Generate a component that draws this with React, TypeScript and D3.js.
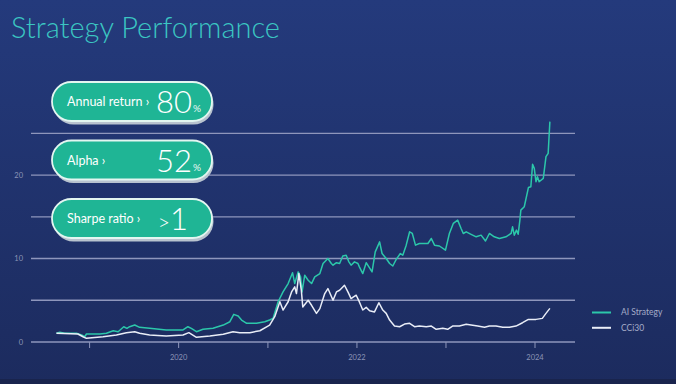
import React, { useEffect, useRef } from "react";
import * as d3 from "d3";

// values (growth of 1 unit)
const aiStrategy: [string, number][] = [
  ["2018-08-18", 1.04], ["2018-09-01", 1.16], ["2018-09-21", 1.04], ["2018-11-08", 1.04],
  ["2018-11-29", 0.84], ["2018-12-12", 0.63], ["2018-12-19", 0.96], ["2019-02-12", 0.96],
  ["2019-03-11", 1.04], ["2019-04-08", 1.35], ["2019-04-28", 1.23], ["2019-05-21", 1.83],
  ["2019-06-03", 1.64], ["2019-06-14", 1.83], ["2019-07-05", 2.03], ["2019-07-25", 1.76],
  ["2019-09-04", 1.64], ["2019-11-11", 1.44], ["2020-01-19", 1.44], ["2020-02-08", 1.83],
  ["2020-02-22", 1.64], ["2020-03-14", 1.23], ["2020-04-10", 1.52], ["2020-05-21", 1.64],
  ["2020-07-02", 2.03], ["2020-07-29", 2.43], ["2020-08-14", 3.31], ["2020-09-01", 3.11],
  ["2020-09-15", 2.63], ["2020-10-06", 2.24], ["2020-11-15", 2.24], ["2020-12-19", 2.43],
  ["2021-01-08", 2.63], ["2021-01-22", 2.83], ["2021-02-12", 4.82], ["2021-03-04", 6.0],
  ["2021-03-25", 7.0], ["2021-04-12", 8.3], ["2021-04-21", 7.0], ["2021-05-05", 8.4],
  ["2021-05-15", 7.8], ["2021-05-21", 6.0], ["2021-06-01", 8.0], ["2021-06-15", 7.4],
  ["2021-06-29", 7.0], ["2021-07-12", 7.8], ["2021-08-02", 8.2], ["2021-08-15", 9.4],
  ["2021-09-04", 10.0], ["2021-09-18", 9.4], ["2021-09-25", 9.2], ["2021-10-09", 9.5],
  ["2021-10-22", 9.4], ["2021-11-04", 10.3], ["2021-11-18", 10.4], ["2021-11-29", 9.6],
  ["2021-12-08", 9.2], ["2021-12-22", 9.6], ["2022-01-05", 9.4], ["2022-01-11", 9.0],
  ["2022-01-25", 8.2], ["2022-02-08", 9.5], ["2022-02-19", 9.0], ["2022-03-04", 8.4],
  ["2022-03-17", 10.8], ["2022-04-04", 12.0], ["2022-04-14", 10.6], ["2022-05-01", 10.0],
  ["2022-05-15", 9.4], ["2022-05-28", 9.1], ["2022-06-11", 9.9], ["2022-06-28", 10.6],
  ["2022-07-08", 10.4], ["2022-07-22", 11.6], ["2022-08-05", 13.2], ["2022-08-16", 13.0],
  ["2022-08-29", 11.6], ["2022-09-14", 11.8], ["2022-10-05", 11.8], ["2022-10-19", 11.8],
  ["2022-11-02", 12.4], ["2022-11-15", 11.6], ["2022-12-05", 11.5], ["2022-12-30", 11.0],
  ["2023-01-15", 13.0], ["2023-01-31", 14.2], ["2023-02-18", 14.6], ["2023-03-04", 13.6],
  ["2023-03-13", 13.0], ["2023-03-25", 13.2], ["2023-04-14", 12.9], ["2023-05-05", 12.6],
  ["2023-05-25", 12.8], ["2023-06-12", 12.1], ["2023-06-28", 13.0], ["2023-07-18", 12.6],
  ["2023-08-08", 12.4], ["2023-09-04", 12.6], ["2023-09-25", 13.0], ["2023-10-01", 13.8],
  ["2023-10-08", 12.8], ["2023-10-17", 13.4], ["2023-10-24", 12.9], ["2023-10-31", 14.6],
  ["2023-11-04", 15.8], ["2023-11-18", 16.2], ["2023-12-05", 18.5], ["2023-12-15", 18.6],
  ["2023-12-22", 21.3], ["2023-12-29", 20.8], ["2024-01-05", 19.2], ["2024-01-11", 19.8],
  ["2024-01-18", 19.2], ["2024-02-04", 19.6], ["2024-02-15", 22.2], ["2024-02-24", 22.6],
  ["2024-03-02", 26.4],
];

const cci30: [string, number][] = [
  ["2018-08-18", 1.04], ["2018-11-14", 0.96], ["2018-12-05", 0.63], ["2018-12-19", 0.44],
  ["2019-02-25", 0.63], ["2019-04-21", 0.84], ["2019-06-01", 1.12], ["2019-07-05", 1.23],
  ["2019-07-25", 1.04], ["2019-09-04", 0.84], ["2019-11-11", 0.72], ["2020-01-19", 0.84],
  ["2020-02-12", 1.12], ["2020-03-14", 0.56], ["2020-05-08", 0.72], ["2020-07-02", 0.92],
  ["2020-08-11", 1.23], ["2020-09-08", 1.12], ["2020-10-19", 1.12], ["2020-11-29", 1.35],
  ["2021-01-01", 1.91], ["2021-01-08", 2.03], ["2021-01-29", 3.03], ["2021-02-19", 4.82],
  ["2021-03-04", 3.83], ["2021-03-25", 4.82], ["2021-04-08", 6.0], ["2021-04-21", 6.6],
  ["2021-04-28", 5.8], ["2021-05-08", 8.2], ["2021-05-18", 6.2], ["2021-05-24", 4.2],
  ["2021-06-15", 5.0], ["2021-06-29", 4.4], ["2021-07-19", 3.43], ["2021-08-02", 4.0],
  ["2021-08-22", 5.8], ["2021-09-04", 6.4], ["2021-09-25", 5.0], ["2021-10-09", 6.0],
  ["2021-10-22", 6.2], ["2021-11-11", 6.8], ["2021-11-25", 6.0], ["2021-12-08", 5.2],
  ["2021-12-18", 5.4], ["2021-12-29", 5.6], ["2022-01-11", 4.8], ["2022-01-25", 3.83],
  ["2022-02-08", 4.15], ["2022-02-22", 3.75], ["2022-03-14", 3.6], ["2022-04-01", 4.7],
  ["2022-04-17", 3.83], ["2022-05-01", 3.43], ["2022-05-15", 2.63], ["2022-06-04", 1.91],
  ["2022-06-25", 1.83], ["2022-07-15", 2.15], ["2022-08-05", 2.24], ["2022-08-25", 1.83],
  ["2022-09-14", 1.91], ["2022-10-12", 1.83], ["2022-11-02", 1.91], ["2022-11-22", 1.52],
  ["2022-12-19", 1.64], ["2023-01-08", 1.52], ["2023-01-28", 1.91], ["2023-02-25", 1.91],
  ["2023-03-25", 2.12], ["2023-04-14", 2.03], ["2023-05-11", 1.91], ["2023-06-08", 1.76],
  ["2023-06-28", 1.91], ["2023-07-25", 1.91], ["2023-08-22", 1.76], ["2023-09-18", 1.76],
  ["2023-10-15", 1.91], ["2023-11-11", 2.31], ["2023-12-05", 2.71], ["2024-01-05", 2.71],
  ["2024-01-31", 2.83], ["2024-02-15", 3.43], ["2024-03-02", 4.03],
];

const seriesNames = ["AI Strategy", "CCi30"];
const gridValues = [0, 5, 10, 15, 20, 25];
const labelValues = [0, 10, 20];
const tickYears = [2019, 2020, 2021, 2022, 2023, 2024];
const labelYears = [2020, 2022, 2024];

const metricLabels = ["Annual return ›", "Alpha ›", "Sharpe ratio ›"];
const metricPrefix = ["", "", ">"];
const metricValues = ["80", "52", "1"];
const metricSuffix = ["%", "%", ""];

const width = 676;
const height = 384;
const teal = "#2cc7aa";
const gridColor = "#8e96bc";
const font = "Lato, 'Open Sans', sans-serif";

export default function App() {
  const ref = useRef<SVGSVGElement>(null);

  useEffect(() => {
    document.body.style.margin = "0";
    const parse = d3.utcParse("%Y-%m-%d");
    const series = [aiStrategy, cci30].map(s => s.map(([d, v]) => ({ date: parse(d) as Date, value: v })));

    const x = d3
      .scaleUtc()
      .domain([new Date(Date.UTC(2019, 0, 1)), new Date(Date.UTC(2024, 0, 1))])
      .range([89.6, 535]);
    const y = d3.scaleLinear().domain([0, 25]).range([342, 133.3]);
    const left = 31;
    const right = 575;

    const svg = d3.select(ref.current);
    svg.selectAll("*").remove();

    const defs = svg.append("defs");
    const bg = defs
      .append("linearGradient")
      .attr("id", "bg")
      .attr("x1", 0)
      .attr("y1", 0)
      .attr("x2", 0)
      .attr("y2", 1);
    bg.append("stop").attr("offset", "0%").attr("stop-color", "#243a7c");
    bg.append("stop").attr("offset", "100%").attr("stop-color", "#1c2b5e");

    svg.append("rect").attr("width", width).attr("height", height).attr("fill", "url(#bg)");
    svg.append("rect").attr("y", 379).attr("width", width).attr("height", 5).attr("fill", "#19244d");

    svg
      .append("text")
      .attr("x", 11)
      .attr("y", 38)
      .attr("fill", "#3bc6c2")
      .attr("font-family", font)
      .attr("font-weight", 300)
      .attr("font-size", 29)
      .text("Strategy Performance");

    // grid
    svg
      .append("g")
      .selectAll("line")
      .data(gridValues)
      .join("line")
      .attr("x1", left)
      .attr("x2", right)
      .attr("y1", d => y(d))
      .attr("y2", d => y(d))
      .attr("stroke", gridColor)
      .attr("stroke-width", 1.3);

    svg
      .append("g")
      .selectAll("text")
      .data(labelValues)
      .join("text")
      .attr("x", 23)
      .attr("y", d => y(d))
      .attr("dy", "0.35em")
      .attr("text-anchor", "end")
      .attr("fill", "#8c94b6")
      .attr("font-family", font)
      .attr("font-size", 7.5)
      .text(d => d);

    const years = tickYears.map(yr => new Date(Date.UTC(yr, 0, 1)));
    svg
      .append("g")
      .selectAll("line")
      .data(years)
      .join("line")
      .attr("x1", d => x(d))
      .attr("x2", d => x(d))
      .attr("y1", y(0))
      .attr("y2", y(0) + 6)
      .attr("stroke", gridColor)
      .attr("stroke-width", 1);

    svg
      .append("g")
      .selectAll("text")
      .data(labelYears)
      .join("text")
      .attr("x", d => x(new Date(Date.UTC(d, 0, 1))))
      .attr("y", 360)
      .attr("text-anchor", "middle")
      .attr("fill", "#8c94b6")
      .attr("font-family", font)
      .attr("font-size", 7.5)
      .text(d => d);

    const line = d3
      .line<{ date: Date; value: number }>()
      .x(d => x(d.date))
      .y(d => y(d.value));

    const colors = [teal, "#e9edf7"];
    svg
      .append("g")
      .selectAll("path")
      .data(series)
      .join("path")
      .attr("fill", "none")
      .attr("stroke", (d, i) => colors[i])
      .attr("stroke-width", 1.5)
      .attr("stroke-linejoin", "round")
      .attr("d", line);

    // legend
    const legend = svg
      .append("g")
      .selectAll("g")
      .data(seriesNames)
      .join("g")
      .attr("transform", (d, i) => `translate(592,${312.5 + i * 15.3})`);
    legend
      .append("line")
      .attr("x2", 19)
      .attr("stroke", (d, i) => colors[i])
      .attr("stroke-width", 2);
    legend
      .append("text")
      .attr("x", 29)
      .attr("dy", "0.35em")
      .attr("fill", "#a5acc8")
      .attr("font-family", font)
      .attr("font-size", 8.5)
      .text(d => d);

    // metric pills
    const pill = svg
      .append("g")
      .selectAll("g")
      .data(metricLabels)
      .join("g")
      .attr("transform", (d, i) => `translate(52,${82 + i * 58.5})`);
    pill
      .append("rect")
      .attr("x", 1.5)
      .attr("y", 2.5)
      .attr("width", 160)
      .attr("height", 40)
      .attr("rx", 20)
      .attr("fill", "#b8c3cf");
    pill
      .append("rect")
      .attr("width", 160)
      .attr("height", 39)
      .attr("rx", 19.5)
      .attr("fill", "#1fb595")
      .attr("stroke", "#e3f6f1")
      .attr("stroke-width", 1.8);
    pill
      .append("text")
      .attr("x", 15)
      .attr("y", 24)
      .attr("fill", "#ffffff")
      .attr("font-family", font)
      .attr("font-size", 12.5)
      .text(d => d);
    const value = pill
      .append("text")
      .attr("x", (d, i) => (metricSuffix[i] ? 140 : 136))
      .attr("y", 31)
      .attr("text-anchor", "end")
      .attr("fill", "#ffffff")
      .attr("font-family", font)
      .attr("font-weight", 300);
    value
      .append("tspan")
      .attr("font-size", 21)
      .text((d, i) => metricPrefix[i]);
    value
      .append("tspan")
      .attr("font-size", 31)
      .text((d, i) => metricValues[i]);
    pill
      .append("text")
      .attr("x", 141)
      .attr("y", 30)
      .attr("fill", "#e8f7f3")
      .attr("font-family", font)
      .attr("font-size", 10)
      .text((d, i) => metricSuffix[i]);
  }, []);

  return (
    <svg
      ref={ref}
      width={width}
      height={height}
      style={{ position: "absolute", left: 0, top: 0, display: "block" }}
    />
  );
}
